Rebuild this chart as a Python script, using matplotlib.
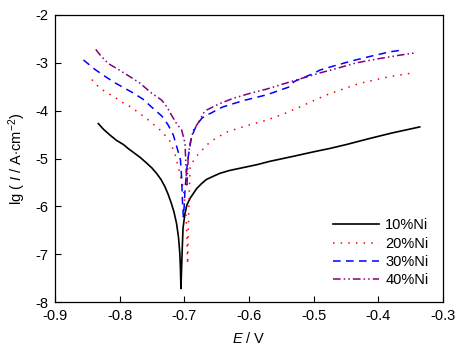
import matplotlib
matplotlib.use('Agg')
import matplotlib.pyplot as plt

plt.rcParams['font.family'] = ['Liberation Sans', 'DejaVu Sans']
plt.rcParams['mathtext.fontset'] = 'custom'
plt.rcParams['mathtext.rm'] = 'Liberation Sans'
plt.rcParams['mathtext.it'] = 'Liberation Sans:italic'

# polarisation curves (E in V, lg I in A/cm2)
e_10 = [-0.833, -0.825, -0.815, -0.805, -0.794, -0.787, -0.779, -0.768, -0.758, -0.750, -0.743,
        -0.736, -0.730, -0.725, -0.720, -0.716, -0.712, -0.709, -0.707, -0.706, -0.7053,
        -0.704, -0.703, -0.702, -0.699, -0.696, -0.691, -0.686, -0.681, -0.673, -0.666, -0.655,
        -0.645, -0.630, -0.609, -0.588, -0.568, -0.530, -0.500, -0.475, -0.450, -0.413, -0.380,
        -0.336]
lg_10 = [-4.27, -4.39, -4.51, -4.62, -4.71, -4.79, -4.87, -4.98, -5.10, -5.20, -5.31,
         -5.44, -5.59, -5.75, -5.94, -6.12, -6.36, -6.65, -6.98, -7.30, -7.72,
         -7.20, -6.80, -6.45, -6.15, -5.97, -5.83, -5.73, -5.63, -5.52, -5.44, -5.37,
         -5.31, -5.25, -5.19, -5.13, -5.06, -4.95, -4.86, -4.79, -4.71, -4.58, -4.47,
         -4.34]

e_20 = [-0.843, -0.836, -0.826, -0.818, -0.807, -0.800, -0.789, -0.780, -0.771, -0.762, -0.753,
        -0.745, -0.736, -0.729, -0.722, -0.714, -0.708, -0.702, -0.698, -0.696, -0.695,
        -0.694, -0.693, -0.691, -0.684, -0.676, -0.660, -0.635, -0.617, -0.600, -0.573, -0.545,
        -0.521, -0.500, -0.480, -0.455, -0.429, -0.387, -0.347]
lg_20 = [-3.35, -3.46, -3.57, -3.64, -3.72, -3.80, -3.87, -3.95, -4.04, -4.13, -4.22,
         -4.32, -4.42, -4.53, -4.64, -4.93, -5.25, -5.60, -6.05, -6.60, -7.21,
         -6.60, -6.00, -5.17, -5.00, -4.87, -4.65, -4.45, -4.37, -4.30, -4.20, -4.06,
         -3.92, -3.79, -3.67, -3.55, -3.43, -3.30, -3.21]

e_30 = [-0.856, -0.838, -0.823, -0.807, -0.779, -0.764, -0.751, -0.735, -0.725, -0.717, -0.712,
        -0.706, -0.704, -0.703, -0.7015, -0.700, -0.699, -0.695, -0.689, -0.681, -0.673, -0.666,
        -0.660, -0.645, -0.640, -0.609, -0.573, -0.537, -0.530, -0.500, -0.490, -0.470, -0.441,
        -0.411, -0.382, -0.362]
lg_30 = [-2.94, -3.14, -3.28, -3.42, -3.63, -3.76, -3.92, -4.11, -4.30, -4.51, -4.74,
         -5.03, -5.45, -5.87, -6.22, -5.95, -5.66, -5.05, -4.55, -4.30, -4.16, -4.09,
         -4.06, -3.95, -3.92, -3.79, -3.67, -3.50, -3.39, -3.22, -3.15, -3.07, -2.96,
         -2.86, -2.77, -2.73]

e_40 = [-0.837, -0.830, -0.818, -0.802, -0.784, -0.769, -0.751, -0.735, -0.727, -0.720, -0.712,
        -0.704, -0.699, -0.698, -0.697, -0.696, -0.694, -0.691, -0.686, -0.676, -0.671, -0.666,
        -0.645, -0.624, -0.599, -0.573, -0.537, -0.490, -0.465, -0.434, -0.398, -0.367, -0.342]
lg_40 = [-2.72, -2.84, -3.01, -3.14, -3.29, -3.42, -3.63, -3.78, -3.92, -4.09, -4.27,
         -4.41, -4.68, -5.00, -5.30, -5.59, -4.96, -4.68, -4.41, -4.20, -4.06, -3.99,
         -3.85, -3.74, -3.64, -3.55, -3.40, -3.21, -3.12, -3.00, -2.91, -2.84, -2.79]

labels = ['10%Ni', '20%Ni', '30%Ni', '40%Ni']

fig = plt.figure(figsize=(4.65, 3.46), dpi=100)
ax = fig.add_axes([55 / 465, 1 - 302 / 346, 388 / 465, 287 / 346])

ax.plot(e_10, lg_10, color='black', lw=1.2, ls='-', label=labels[0])
ax.plot(e_20, lg_20, color='red', lw=1.1, ls=(0, (1, 4)), label=labels[1])
ax.plot(e_30, lg_30, color='blue', lw=1.1, ls=(0, (5, 3.5)), label=labels[2])
ax.plot(e_40, lg_40, color='purple', lw=1.1, ls=(0, (5, 2, 1, 2, 1, 2)), label=labels[3])

ax.set_xlim(-0.9, -0.3)
ax.set_ylim(-8, -2)
ax.set_xticks([-0.9, -0.8, -0.7, -0.6, -0.5, -0.4, -0.3])
ax.set_yticks([-8, -7, -6, -5, -4, -3, -2])
ax.set_xticklabels(['-0.9', '-0.8', '-0.7', '-0.6', '-0.5', '-0.4', '-0.3'])
ax.set_yticklabels(['-8', '-7', '-6', '-5', '-4', '-3', '-2'])
ax.tick_params(direction='in', length=4, width=0.8, labelsize=10.5, pad=5)
for s in ax.spines.values():
    s.set_linewidth(0.9)

ax.set_xlabel(r'$\mathit{E}$ / V', fontsize=10.5, labelpad=6)
ax.set_ylabel(r'lg ( $\mathit{I}$ / A$\cdot$cm$^{-2}$)', fontsize=10.5, labelpad=5)

ax.legend(loc='lower right', frameon=False, fontsize=10.5, handlelength=3.2,
          handletextpad=0.4, labelspacing=0.3, borderaxespad=0.6)

fig.savefig('out.png', dpi=100)
